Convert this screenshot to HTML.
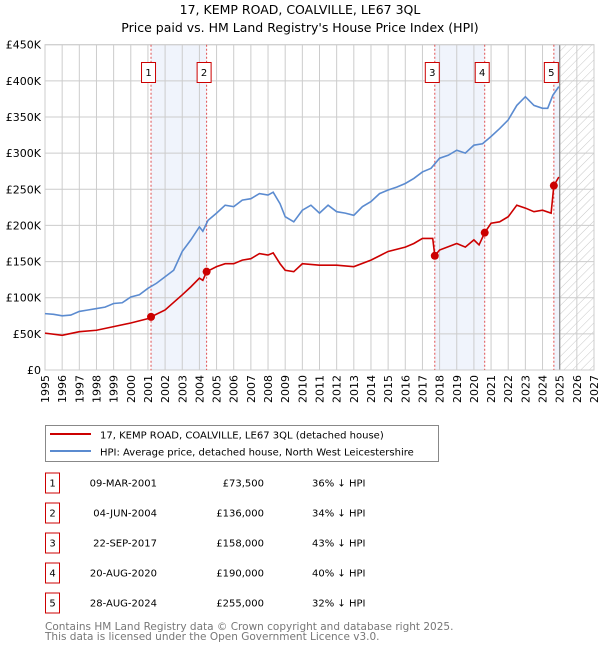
<!DOCTYPE html>
<html><head><meta charset="utf-8"><style>
body{margin:0;background:#fff;font-family:"Liberation Sans","DejaVu Sans",sans-serif;}
svg{display:block}
text{font-family:"DejaVu Sans","Liberation Sans",sans-serif;}
</style></head><body>
<svg id="chart" width="600" height="650" viewBox="0 0 600 650">
<defs><pattern id="hatch" width="6" height="6" patternUnits="userSpaceOnUse" patternTransform="rotate(45)"><line x1="0" y1="0" x2="0" y2="6" stroke="#c8c8c8" stroke-width="1"/></pattern></defs>
<text x="300" y="14" text-anchor="middle" font-size="12.5" fill="#000">17, KEMP ROAD, COALVILLE, LE67 3QL</text>
<text x="300" y="32" text-anchor="middle" font-size="12.5" fill="#000">Price paid vs. HM Land Registry's House Price Index (HPI)</text>
<g id="plot"></g>
<g>
<rect x="45.5" y="425.5" width="393" height="36" fill="#fff" stroke="#888"/>
<line x1="50" y1="434" x2="91" y2="434" stroke="#cc0000" stroke-width="2"/>
<text x="100" y="438.5" font-size="10">17, KEMP ROAD, COALVILLE, LE67 3QL (detached house)</text>
<line x1="50" y1="451" x2="91" y2="451" stroke="#5b8bd0" stroke-width="2"/>
<text x="100" y="455.5" font-size="10">HPI: Average price, detached house, North West Leicestershire</text>
</g>
<g id="table" font-size="10"></g>
<text x="45" y="630" font-size="10.5" fill="#777">Contains HM Land Registry data © Crown copyright and database right 2025.</text>
<text x="45" y="640" font-size="10.5" fill="#777">This data is licensed under the Open Government Licence v3.0.</text>
</svg>
<script>
const hpiYears=[1995,1995.5,1996,1996.5,1997,1997.5,1998,1998.5,1999,1999.5,2000,2000.5,2001,2001.5,2002,2002.5,2003,2003.5,2004,2004.2,2004.5,2005,2005.5,2006,2006.5,2007,2007.5,2008,2008.3,2008.7,2009,2009.5,2010,2010.5,2011,2011.5,2012,2012.5,2013,2013.5,2014,2014.5,2015,2015.5,2016,2016.5,2017,2017.5,2018,2018.5,2019,2019.5,2020,2020.5,2021,2021.5,2022,2022.5,2023,2023.5,2024,2024.3,2024.6,2024.95];
const hpiValues=[78,77,75,76,81,83,85,87,92,93,101,104,113,120,129,138,164,180,198,192,207,217,228,226,235,237,244,242,246,230,212,205,221,228,217,228,219,217,214,226,233,244,249,253,258,265,274,279,293,297,304,300,311,313,323,334,346,366,378,366,362,362,380,392];
const ppYears=[1995,1996,1997,1998,1999,2000,2001,2001.18,2002,2003,2003.5,2004,2004.2,2004.42,2005,2005.5,2006,2006.5,2007,2007.5,2008,2008.3,2008.7,2009,2009.5,2010,2011,2012,2013,2014,2015,2016,2016.5,2017,2017.6,2017.72,2018,2019,2019.5,2020,2020.3,2020.63,2021,2021.5,2022,2022.5,2023,2023.5,2024,2024.5,2024.66,2024.95];
const ppValues=[51,48,53,55,60,65,71,73.5,83,104,115,127,124,136,143,147,147,152,154,161,159,162,147,138,136,147,145,145,143,152,164,170,175,182,182,158,166,175,170,180,173,190,203,205,212,228,224,219,221,217,255,267];
const saleLabels=["1","2","3","4","5"];
const saleYears=[2001.18,2004.42,2017.72,2020.63,2024.66];
const salePrices=[73.5,136,158,190,255];
const saleDates=["09-MAR-2001","04-JUN-2004","22-SEP-2017","20-AUG-2020","28-AUG-2024"];
const salePriceText=["£73,500","£136,000","£158,000","£190,000","£255,000"];
const salePct=["36% ↓ HPI","34% ↓ HPI","43% ↓ HPI","40% ↓ HPI","32% ↓ HPI"];
const yTicks=[0,50,100,150,200,250,300,350,400,450];
const yTickLabels=["£0","£50K","£100K","£150K","£200K","£250K","£300K","£350K","£400K","£450K"];
const xTicks=[1995,1996,1997,1998,1999,2000,2001,2002,2003,2004,2005,2006,2007,2008,2009,2010,2011,2012,2013,2014,2015,2016,2017,2018,2019,2020,2021,2022,2023,2024,2025,2026,2027];

const L=45,R=594,T=44.7,B=370;
const xs=y=>L+(y-1995)*(R-L)/32;
const ys=v=>B-v*(B-T)/450;
const NS="http://www.w3.org/2000/svg";
const plot=document.getElementById('plot');
function mk(tag,attrs,parent){const e=document.createElementNS(NS,tag);for(const k in attrs)e.setAttribute(k,attrs[k]);(parent||plot).appendChild(e);return e;}

for(let i=0;i<saleYears.length;i+=2){
  const x1=xs(saleYears[i]),x2=i+1<saleYears.length?xs(saleYears[i+1]):xs(2025);
  const r=mk('rect',{x:x1,y:T,width:x2-x1,height:B-T,fill:'#f0f4fc'});
  
  
}
const hat=mk('rect',{x:xs(2025),y:T,width:R-xs(2025),height:B-T,fill:'url(#hatch)'});


yTicks.forEach((v,i)=>{
  const g=mk('line',{x1:L,x2:R,y1:ys(v),y2:ys(v),stroke:'#cccccc','stroke-width':1});
  
  
  const t=mk('text',{x:L-4,y:ys(v)+4,'text-anchor':'end','font-size':11});
  t.textContent=yTickLabels[i];
  
  
});
xTicks.forEach(y=>{
  const g=mk('line',{x1:xs(y),x2:xs(y),y1:T,y2:B,stroke:'#cccccc','stroke-width':1});
  
  
  const t=mk('text',{x:0,y:0,'text-anchor':'end','font-size':11,transform:`translate(${xs(y)+4},${B+5}) rotate(-90)`});
  t.textContent=y;
  
  
});
const nl=mk('line',{x1:xs(2025),x2:xs(2025),y1:T,y2:B,stroke:'#888','stroke-width':1.2});


const fr=mk('rect',{x:L,y:T,width:R-L,height:B-T,fill:'none',stroke:'#ccc'});


saleYears.forEach((y,i)=>{
  const l=mk('line',{x1:xs(y),x2:xs(y),y1:T,y2:B,stroke:'#e05050','stroke-width':1,'stroke-dasharray':'2,2'});
  
  
  const bx=mk('rect',{x:xs(y)-9.5,y:62.5,width:14,height:20,fill:'#fff',stroke:'#cc0000'});
  
  
  const t=mk('text',{x:xs(y)-2.5,y:76,'text-anchor':'middle','font-size':10});
  t.textContent=saleLabels[i];
  
  
});
const hp=mk('polyline',{points:hpiYears.map((y,i)=>xs(y)+','+ys(hpiValues[i])).join(' '),fill:'none',stroke:'#5b8bd0','stroke-width':1.6});


const pp=mk('polyline',{points:ppYears.map((y,i)=>xs(y)+','+ys(ppValues[i])).join(' '),fill:'none',stroke:'#cc0000','stroke-width':1.6});


saleYears.forEach((y,i)=>{
  const c=mk('circle',{cx:xs(y),cy:ys(salePrices[i]),r:4,fill:'#cc0000'});
  
  
});
const tb=document.getElementById('table');
saleLabels.forEach((s,i)=>{
  const cy=483+i*30;
  const r=mk('rect',{x:45.5,y:cy-10,width:14,height:20,fill:'#fff',stroke:'#cc0000'},tb);
  
  
  const t0=mk('text',{x:52.5,y:cy+3.5,'text-anchor':'middle'},tb);t0.textContent=s;
  
  
  const t1=mk('text',{x:157,y:cy+3.5,'text-anchor':'end'},tb);t1.textContent=saleDates[i];
  
  
  const t2=mk('text',{x:264,y:cy+3.5,'text-anchor':'end'},tb);t2.textContent=salePriceText[i];
  
  
  const t3=mk('text',{x:312,y:cy+3.5},tb);t3.textContent=salePct[i];
  
  
});
</script>
</body></html>
